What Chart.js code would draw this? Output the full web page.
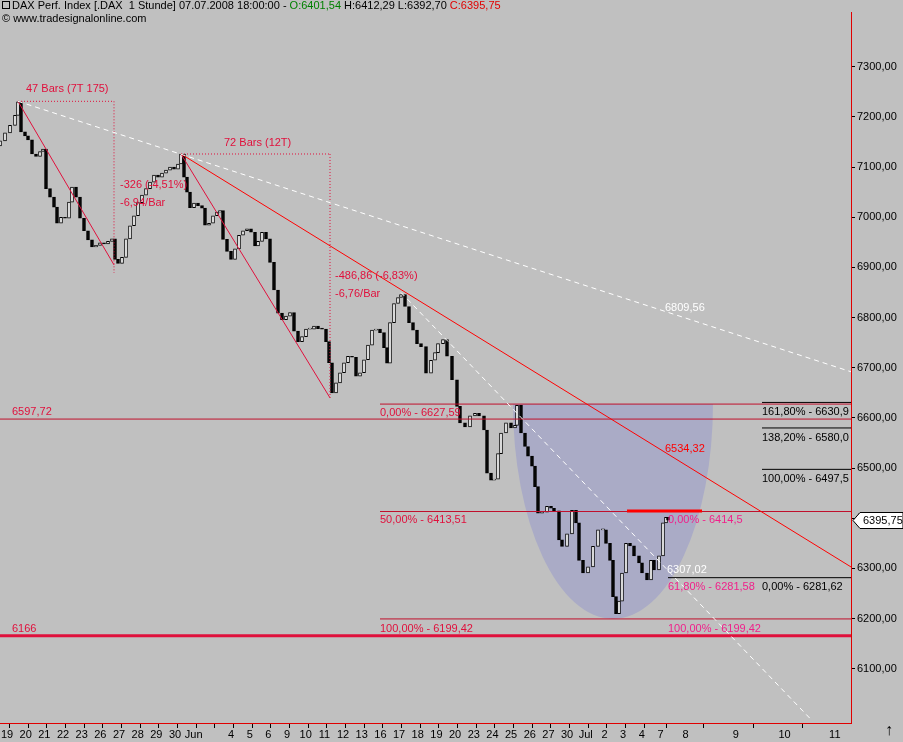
<!DOCTYPE html>
<html><head><meta charset="utf-8">
<script src="https://cdn.jsdelivr.net/npm/chart.js@4"></script>
<style>html,body{margin:0;padding:0;background:#c0c0c0}#w{width:903px;height:742px}</style>
</head><body><div id="w"><canvas id="c"></canvas></div>
<script>
// time axis: 1 trading day = 18.67 time units
const dayTicks = [0,18.67,37.34,56.01,74.68,93.35,112.02,130.69,149.36,168.03,186.7,205.37,224.04,242.71,261.38,280.05,298.72,317.39,336.06,354.73,373.4,392.07,410.74,429.41,448.08,466.75,485.42,504.09,522.76,541.43,560.1,578.77,597.44,616.11,634.78,653.45,678.6,728.7,777.6,827.8];
const dayLabels = ['19','20','21','22','23','26','27','28','29','30','Jun','','4','5','6','9','10','11','12','13','16','17','18','19','20','23','24','25','26','27','30','Jul','2','3','4','7','8','9','10','11'];
const barTimes = [0,5,10,15,18,21,25,28,32,36,40,43,46,50,54,57,61,65,69,72,76,80,84,88,92,96,100,104,108,112,115,118,122,126,130,134,138,142,146,150,154,158,162,166,170,174,178,181,184,187,190,194,198,202,205,209,213,217,220,223,227,231,235,239,243,247,251,255,258,262,266,270,274,278,282,286,290,294,298,302,306,310,314,318,322,326,329,332,336,340,344,348,352,356,360,364,368,372,376,380,384,387,390,394,398,401,405,409,413,417,421,426,431,435,438,443,447,452,457,460,465,470,475,479,484,487,491,494,498,501,506,511,515,517,521,525,528,532,535,538,542,547,551,554,559,562,567,572,576,579,583,588,593,598,603,606,610,613,616,619,622,626,630,634,639,642,647,651,654,659,663,666,668];
const closes = [7152,7168,7183,7203,7230,7170,7162,7154,7126,7121,7131,7136,7057,7040,7020,6988,7000,6998,7030,7060,7040,6998,6973,6955,6941,6944,6949,6947,6952,6957,6916,6908,6920,6957,6983,7003,7029,7044,7057,7070,7084,7080,7088,7094,7100,7096,7106,7126,7080,7050,7019,7028,7023,7018,6984,6988,7003,7010,7013,6956,6932,6916,6937,6964,6973,6977,6970,6943,6952,6970,6957,6910,6855,6809,6796,6803,6810,6773,6752,6762,6777,6777,6783,6778,6777,6752,6710,6650,6670,6690,6710,6723,6721,6683,6690,6716,6745,6775,6777,6770,6740,6709,6790,6828,6840,6846,6822,6790,6775,6748,6742,6689,6715,6730,6748,6756,6723,6676,6623,6590,6582,6604,6609,6604,6576,6490,6476,6478,6529,6570,6590,6580,6585,6625,6570,6543,6524,6504,6463,6410,6412,6424,6420,6415,6357,6344,6369,6416,6391,6316,6291,6303,6344,6377,6377,6350,6316,6244,6210,6235,6291,6350,6345,6325,6311,6291,6277,6316,6297,6325,6391,6402,6396];
const firstOpen = 7142;
const priceTicks = [6100,6200,6300,6400,6500,6600,6700,6800,6900,7000,7100,7200,7300];
const lastClose = 6395.75;

const opens = closes.map((c,i)=> i===0 ? firstOpen : closes[i-1]);
const bodies = barTimes.map((t,i)=>({x:t, y:[opens[i], closes[i]]}));
const fmt = v => v.toFixed(2).replace('.',',');

const overlay = {
  id:'overlay',
  beforeDatasetsDraw(ch){
    const {ctx, chartArea:a, scales:{x,y}} = ch;
    ctx.save(); ctx.beginPath(); ctx.rect(a.left,a.top,a.right-a.left,a.bottom-a.top); ctx.clip();
    const cx = x.getPixelForValue(613), rx = x.getPixelForValue(713)-cx;
    const ty = y.getPixelForValue(6627.59), by = y.getPixelForValue(6199.42);
    ctx.fillStyle = '#aaabc6';
    ctx.beginPath(); ctx.ellipse(cx, ty, rx, by-ty, 0, 0, Math.PI); ctx.closePath(); ctx.fill();
    ctx.restore();
  },
  afterDatasetsDraw(ch){
    const {ctx, chartArea:a, scales:{x,y}} = ch;
    const X = v=>x.getPixelForValue(v), Y = v=>y.getPixelForValue(v);
    ctx.save(); ctx.beginPath(); ctx.rect(a.left,a.top,a.right-a.left,a.bottom-a.top); ctx.clip();
    const line=(x1,y1,x2,y2,col,w,dash)=>{ctx.strokeStyle=col;ctx.lineWidth=w;ctx.setLineDash(dash||[]);ctx.beginPath();ctx.moveTo(X(x1),Y(y1));ctx.lineTo(X(x2),Y(y2));ctx.stroke();ctx.setLineDash([]);};
    const text=(s,px,py,col)=>{ctx.fillStyle=col;ctx.font='11px "Liberation Sans", Arial';ctx.textBaseline='middle';ctx.fillText(s,X(px),Y(py));};
    const R='#e0103c', DR='#c0102c', M='#f0208a';
    line(0,6597.72,851,6597.72,DR,1);
    line(0,6166,851,6166,'#e0103c',3);
    line(380,6627.59,851,6627.59,DR,1);
    line(380,6413.51,851,6413.51,DR,1);
    line(380,6199.42,851,6199.42,DR,1);
    line(627,6414.5,702,6414.5,'#ff0000',3);
    [6630.9,6580.0,6497.5,6281.62].forEach(v=>line(762,v,851,v,'#000',1));
    line(668,6281.62,762,6281.62,'#000',1);
    line(18,7231,114,7231,R,1,[1,2]); line(114,7231,114,6889,R,1,[1,2]);
    line(181,7126,330,7126,R,1,[1,2]); line(330,7126,330,6640,R,1,[1,2]);
    line(18,7231,114,6905,R,1); line(181,7126,330,6640,R,1);
    line(181,7126,851,6303,'#ff0000',1);
    line(18,7231,851,6692,'#ffffff',1,[5,4]);
    line(401,6850,812,5997,'#ffffff',1,[5,4]);
    text('47 Bars (7T 175)',26,7255,R);
    text('72 Bars (12T)',224,7148,R);
    text('-326 (-4,51%)',120,7065,R);
    text('-6,94/Bar',120,7028,R);
    text('-486,86 (-6,83%)',335,6883,R);
    text('-6,76/Bar',335,6847,R);
    text('6597,72',12,6612,R);
    text('6166',12,6180,R);
    text('0,00% - 6627,59',380,6609,R);
    text('50,00% - 6413,51',380,6396,R);
    text('100,00% - 6199,42',380,6180,R);
    text('100,00% - 6199,42',668,6180,M);
    text('0,00% - 6414,5',668,6396,M);
    text('61,80% - 6281,58',668,6264,M);
    text('0,00% - 6281,62',762,6264,'#000');
    text('100,00% - 6497,5',762,6478,'#000');
    text('138,20% - 6580,0',762,6560,'#000');
    text('161,80% - 6630,9',762,6612,'#000');
    text('6534,32',665,6539,'#ff0000');
    text('6809,56',665,6819,'#ffffff');
    text('6307,02',667,6296,'#ffffff');
    ctx.restore();
  },
  afterDraw(ch){
    const {ctx, chartArea:a, scales:{y}} = ch;
    ctx.save();
    ctx.font='11px "Liberation Sans", Arial'; ctx.textBaseline='middle';
    let px=12; const parts=[['DAX Perf. Index [.DAX  1 Stunde] 07.07.2008 18:00:00 - ','#000'],['O:6401,54','#008000'],[' H:6412,29 L:6392,70 ','#000'],['C:6395,75','#e00000']];
    parts.forEach(([s,c])=>{ctx.fillStyle=c;ctx.fillText(s,px,6);px+=ctx.measureText(s).width;});
    ctx.fillStyle='#000'; ctx.fillText('© www.tradesignalonline.com',2,19);
    ctx.strokeStyle='#000'; ctx.strokeRect(2.5,1.5,7,7);
    const ty=Math.round(y.getPixelForValue(lastClose))+0.5, x0=a.right+2;
    ctx.beginPath(); ctx.moveTo(x0,ty); ctx.lineTo(x0+7,ty-8); ctx.lineTo(903,ty-8); ctx.lineTo(903,ty+8); ctx.lineTo(x0+7,ty+8); ctx.closePath();
    ctx.fillStyle='#fff'; ctx.fill(); ctx.strokeStyle='#000'; ctx.stroke();
    ctx.fillStyle='#000'; ctx.fillText('6395,75',x0+10,ty);
    ctx.font='16px "Liberation Sans", Arial'; ctx.fillText('↑',885,731);
    ctx.restore();
  }
};

new Chart(document.getElementById('c'),{
  type:'bar',
  data:{datasets:[{
    data:bodies,
    backgroundColor:bodies.map(b=>b.y[1]>=b.y[0]?'#ffffff':'#000000'),
    borderColor:'#000', borderWidth:1, borderSkipped:false,
    barThickness:3, minBarLength:1
  }]},
  options:{
    responsive:true, maintainAspectRatio:false, animation:false,
    layout:{padding:{top:12,left:0,right:0,bottom:0}},
    plugins:{legend:{display:false},tooltip:{enabled:false}},
    scales:{
      x:{type:'linear',min:0,max:851,offset:false,
        afterBuildTicks:ax=>{ax.ticks=dayTicks.map(v=>({value:v}));},
        afterFit:ax=>{ax.height=19;ax.paddingLeft=0;ax.paddingRight=0;},
        border:{color:'#e00000',width:1},
        grid:{drawOnChartArea:false,tickLength:5,color:'#000'},
        ticks:{autoSkip:false,maxRotation:0,labelOffset:7,padding:0,color:'#000',font:{family:'"Liberation Sans", Arial',size:11},
          callback:(v,i)=>dayLabels[i]}},
      y:{position:'right',min:5992,max:7409,
        afterBuildTicks:ax=>{ax.ticks=priceTicks.map(v=>({value:v}));},
        afterFit:ax=>{ax.width=52;},
        border:{color:'#e00000',width:1},
        grid:{drawOnChartArea:false,tickLength:4,color:'#000'},
        ticks:{color:'#000',padding:2,font:{family:'"Liberation Sans", Arial',size:11},callback:v=>fmt(v)}}
    }
  },
  plugins:[overlay]
});
</script></body></html>
